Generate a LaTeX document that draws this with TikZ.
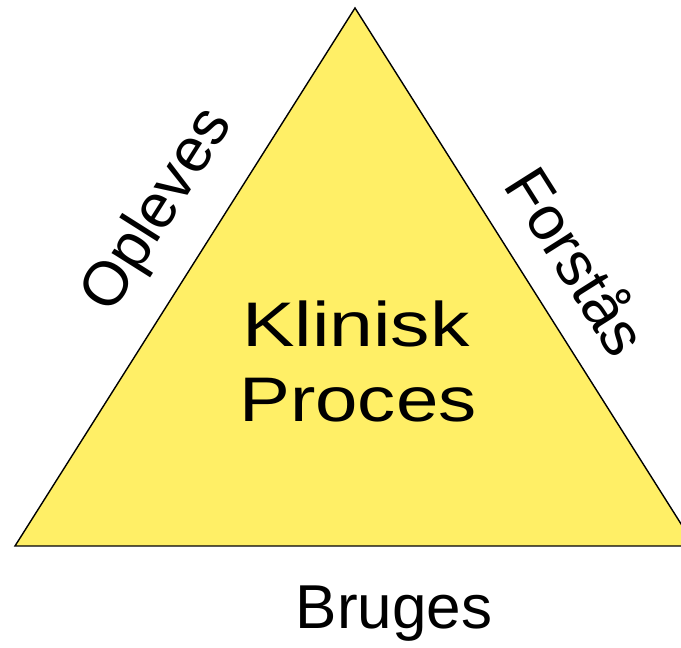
\documentclass[tikz,border=0pt]{standalone}
\usepackage{fontspec}
\setmainfont{Liberation Sans}
\definecolor{triyellow}{RGB}{255,239,102}
\begin{document}
\begin{tikzpicture}[x=1pt,y=1pt,
  lbl/.style={inner sep=0pt, font=\fontsize{62}{64}\selectfont},
  ctr/.style={inner sep=0pt, anchor=base, font=\fontsize{63}{66}\selectfont}]
\useasboundingbox (0,0) rectangle (681,648);
\clip (0,0) rectangle (681,648);
\coordinate (apex) at (355,640);
\coordinate (bl) at (15,102);
\coordinate (br) at (695,102);
\draw[fill=triyellow, line width=1.4pt, line join=miter] (bl) -- (apex) -- (br) -- cycle;
\node[ctr, xscale=1.25] (klinisk) at (356,301) {Klinisk};
\node[ctr, xscale=1.21] (proces) at (358,226) {Proces};
\node[lbl, rotate=57.7] (opleves) at (159,437) {Opleves};
\node[lbl, rotate=-57.7] (forstaas) at (579,388) {Forstås};
\node[lbl, anchor=base] (bruges) at (394,19) {Bruges};
\end{tikzpicture}
\end{document}
